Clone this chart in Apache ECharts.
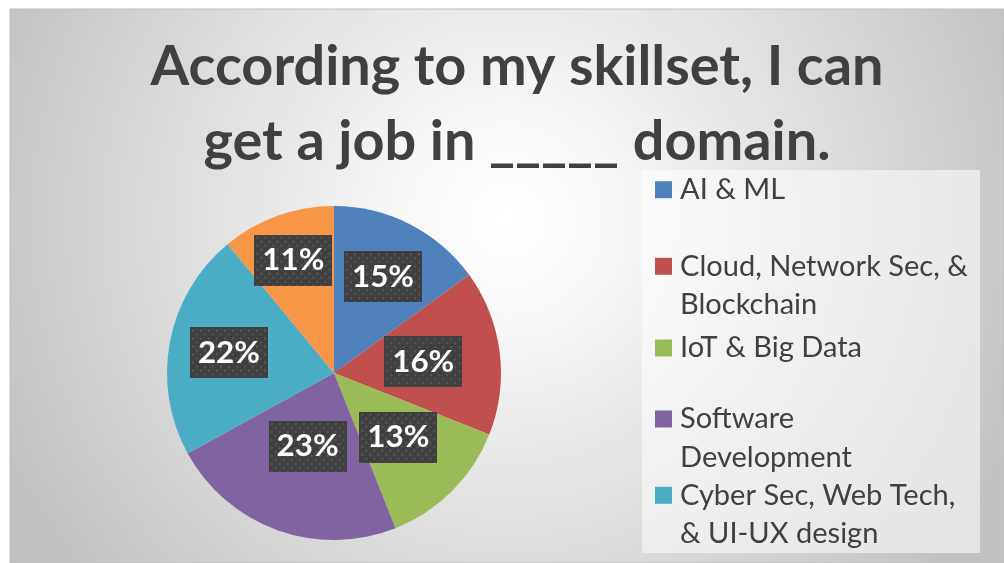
<!DOCTYPE html>
<html><head><meta charset="utf-8">
<script src="https://cdn.jsdelivr.net/npm/echarts@6/dist/echarts.min.js"></script>
<style>html,body{margin:0;padding:0;background:#fff}#c{width:1004px;height:563px}</style>
</head><body><div id="c"></div>
<script>
// ---- data ----
const categories = ['AI & ML', 'Cloud, Network Sec, & Blockchain', 'IoT & Big Data', 'Software Development', 'Cyber Sec, Web Tech, & UI-UX design', 'Other'];
const legendText = ['AI & ML', 'Cloud, Network Sec, &\nBlockchain', 'IoT & Big Data', 'Software\nDevelopment', 'Cyber Sec, Web Tech,\n& UI-UX design'];
const values = [15, 16, 13, 23, 22, 11];
const colors = ['#4f81bd', '#c0504d', '#9bbb59', '#8064a2', '#4bacc6', '#f79646'];
const titleLines = ['According to my skillset, I can', 'get a job in _____ domain.'];

// ---- layout (not data): radial distance of each data label from the pie centre ----
const CX = 334, CY = 373, R = 167;
const labelDist = [108, 90, 91, 78, 107, 120];

// ---- font fitting (layout only) ----
const mctx = document.createElement('canvas').getContext('2d');
function fit(text, weight, family, target) {
  mctx.font = weight + ' 100px ' + family;
  return 100 * target / mctx.measureText(text).width;
}
const FONT = 'Lato';
const titleSize = (fit(titleLines[0], 'bold', FONT, 712) + fit(titleLines[1], 'bold', FONT, 645)) / 2;
const legendSize = fit('Cloud, Network Sec, &', 'normal', FONT, 288);
const labelSize = fit('15%', 'bold', FONT, 62);

// ---- label background with dotted texture ----
const LW = 78, LH = 51;
const pat = document.createElement('canvas');
pat.width = LW; pat.height = LH;
(function () {
  const c = pat.getContext('2d');
  c.fillStyle = '#3f3f3f'; c.fillRect(0, 0, LW, LH);
  c.fillStyle = '#585858';
  for (let y = 2, r = 0; y < LH; y += 4, r++) {
    for (let x = (r % 2) * 4 + 2; x < LW; x += 8) c.fillRect(x, y, 2, 2);
  }
})();

// ---- legend items ----
const iconCenters = [189.7, 266.3, 348, 419, 495.3];
const LEG_LH = 38.3;
const legends = legendText.map(function (t, i) {
  const two = t.indexOf('\n') >= 0;
  const shown = two ? ' \n' + t : t;   // leading blank line keeps the first line level with the icon
  return {
    data: [categories[i]],
    left: 655,
    top: two ? iconCenters[i] - 1.5 * LEG_LH : iconCenters[i] - LEG_LH / 2,
    padding: 0,
    orient: 'vertical',
    icon: 'rect',
    itemWidth: 17,
    itemHeight: 17,
    selectedMode: false,
    formatter: function () { return shown; },
    textStyle: {
      fontFamily: FONT, fontSize: legendSize, color: '#404040',
      lineHeight: LEG_LH,
      padding: [0, 0, 0, 3]
    }
  };
});

// mid-angle of each slice (clockwise from 12 o'clock), from the values
const total = values.reduce(function (a, b) { return a + b; }, 0);
const midAngles = [];
(function () {
  let acc = 0;
  values.forEach(function (v) { midAngles.push((acc + v / 2) / total * Math.PI * 2); acc += v; });
})();

const pieData = categories.map(function (n, i) {
  return { name: n, value: values[i], itemStyle: { color: colors[i] } };
});

const chart = echarts.init(document.getElementById('c'), null, { renderer: 'canvas' });
chart.setOption({
  animation: false,
  color: colors,
  graphic: [
    {
      type: 'rect', z: -100, silent: true,
      shape: { x: 10, y: 9, width: 994, height: 554 },
      style: {
        fill: new echarts.graphic.RadialGradient(0.5, 0.38, 1.0, [
          { offset: 0, color: '#ffffff' },
          { offset: 0.2, color: '#f7f7f7' },
          { offset: 1, color: '#c2c2c2' }
        ]),
        stroke: '#bdbdbd', lineWidth: 1
      }
    },
    {
      type: 'rect', z: -90, silent: true,
      shape: { x: 642, y: 170, width: 338, height: 383 },
      style: { fill: 'rgba(255,255,255,0.55)' }
    }
  ],
  title: {
    text: titleLines.join('\n'),
    left: 512,
    top: 24,
    textAlign: 'center',
    textStyle: {
      fontFamily: FONT, fontWeight: 'bold', fontSize: titleSize,
      color: '#404040', lineHeight: 75
    }
  },
  legend: legends,
  series: [
    {
      type: 'pie',
      center: [CX, CY],
      radius: [0, R],
      startAngle: 90,
      clockwise: true,
      silent: true,
      emphasis: { disabled: true },
      labelLine: { show: false },
      label: {
        show: true,
        position: 'inside',
        formatter: function (p) { return p.value + '%'; },
        color: '#ffffff',
        fontFamily: FONT,
        fontWeight: 'bold',
        fontSize: labelSize,
        width: LW,
        height: LH,
        lineHeight: LH,
        align: 'center',
        backgroundColor: { image: pat },
        shadowColor: 'rgba(0,0,0,0.6)',
        shadowBlur: 6,
        shadowOffsetX: 3,
        shadowOffsetY: 3
      },
      labelLayout: function (p) {
        const i = p.dataIndex;
        const a = midAngles[i];
        return {
          x: CX + labelDist[i] * Math.sin(a),
          y: CY - labelDist[i] * Math.cos(a),
          align: 'center',
          verticalAlign: 'middle'
        };
      },
      data: pieData
    }
  ]
});
</script>
</body></html>
